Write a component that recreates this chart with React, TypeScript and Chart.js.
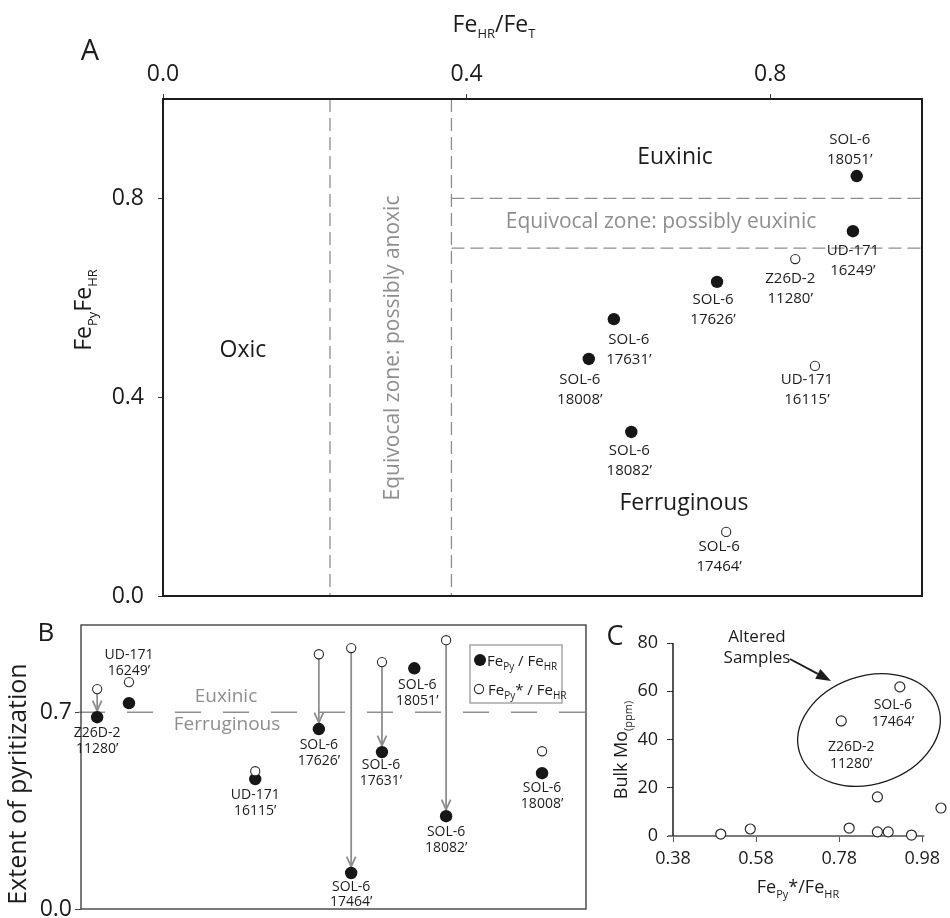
import React, { useEffect, useRef } from 'react';
import { Chart, registerables } from 'chart.js';

Chart.register(...registerables);

const FONT = "'Open Sans', 'Noto Sans', sans-serif";
const INK = '#1c1c1c';
const GREY = '#8e8e8e';

// ---------------- Panel A data ----------------
const aFilledNames = ['SOL-6|18051’', 'UD-171|16249’', 'SOL-6|17626’', 'SOL-6|17631’', 'SOL-6|18008’', 'SOL-6|18082’'];
const aFilledFeHRFeT = [0.914, 0.909, 0.73, 0.594, 0.561, 0.617];
const aFilledFePyFeHR = [0.845, 0.734, 0.632, 0.557, 0.477, 0.33];
const aOpenNames = ['Z26D-2|11280’', 'UD-171|16115’', 'SOL-6|17464’'];
const aOpenFeHRFeT = [0.833, 0.859, 0.742];
const aOpenFePyFeHR = [0.678, 0.463, 0.129];
const aTicksX = [0, 0.4, 0.8];
const aTicksY = [0, 0.4, 0.8];
const aBoundsFeHR = [0.22, 0.38];
const aBoundsFePy = [0.7, 0.8];

// ---------------- Panel B data ----------------
const bNames = ['Z26D-2|11280’', 'UD-171|16249’', 'UD-171|16115’', 'SOL-6|17626’', 'SOL-6|17464’', 'SOL-6|17631’', 'SOL-6|18051’', 'SOL-6|18082’', 'SOL-6|18008’'];
const bPosition = [3.2, 9.5, 34.5, 47.1, 53.5, 59.6, 66.0, 72.3, 91.3];
const bFePyFeHR = [0.682, 0.732, 0.462, 0.64, 0.128, 0.558, 0.856, 0.33, 0.483];
const bFePyStarFeHR: (number | null)[] = [0.782, 0.807, 0.49, 0.906, 0.928, 0.878, null, 0.956, 0.561];
const bArrow = [true, false, false, true, true, true, false, true, false];
const bTicksY = [0, 0.7];
const bThreshold = 0.7;

// ---------------- Panel C data ----------------
const cFePyStarFeHR = [0.495, 0.566, 0.804, 0.872, 0.898, 0.954, 1.025, 0.872, 0.785, 0.926];
const cBulkMo = [0.8, 2.9, 3.3, 1.7, 1.7, 0.4, 11.6, 16.2, 47.7, 61.8];
const cNames: (string | null)[] = [null, null, null, null, null, null, null, null, 'Z26D-2|11280’', 'SOL-6|17464’'];
const cTicksX = [0.38, 0.58, 0.78, 0.98];
const cTicksY = [0, 20, 40, 60, 80];
const cAxisEnd = 0.985;

// ---------------- label placement (style) ----------------
const aFilledLabelOffsets = [[-7, -36], [0, 20], [-4, 18], [15, 21], [-9, 21], [-2, 19]];
const aOpenLabelOffsets = [[-5, 20], [-8, 14], [-7, 15]];
const bLabelOffsets = [[0, 16], [0, -48], [0, 16], [0, 16], [0, 14], [-1, 13], [3, 17], [0, 16], [0, 15]];
const cLabelOffsets: Record<number, number[]> = { 8: [10, 26], 9: [-7, 18] };

type Part = { t: string; sub?: boolean };

function drawRich(ctx: CanvasRenderingContext2D, parts: Part[], x: number, y: number, size: number, subSize: number, color: string, rotate = 0, subDrop = 6, align = 'center') {
  ctx.save();
  ctx.translate(x, y);
  if (rotate) ctx.rotate(rotate);
  ctx.fillStyle = color;
  ctx.textAlign = 'left';
  ctx.textBaseline = 'alphabetic';
  const ws = parts.map((p) => {
    ctx.font = `${p.sub ? subSize : size}px ${FONT}`;
    return ctx.measureText(p.t).width;
  });
  const total = ws.reduce((a, b) => a + b, 0);
  let cx = align === 'center' ? -total / 2 : align === 'right' ? -total : 0;
  parts.forEach((p, i) => {
    ctx.font = `${p.sub ? subSize : size}px ${FONT}`;
    ctx.fillText(p.t, cx, p.sub ? subDrop : 0);
    cx += ws[i];
  });
  ctx.restore();
}

function drawText(ctx: CanvasRenderingContext2D, text: string, x: number, y: number, size: number, color: string, rotate = 0) {
  ctx.save();
  ctx.translate(x, y);
  if (rotate) ctx.rotate(rotate);
  ctx.font = `${size}px ${FONT}`;
  ctx.fillStyle = color;
  ctx.textAlign = 'center';
  ctx.textBaseline = 'middle';
  ctx.fillText(text, 0, 0);
  ctx.restore();
}

function drawLabel(ctx: CanvasRenderingContext2D, name: string, x: number, y: number, size: number, gap: number) {
  name.split('|').forEach((line, j) => drawText(ctx, line, x, y + j * gap, size, INK));
}

const fit = (w?: number, h?: number) => (s: any) => {
  if (w !== undefined) s.width = w;
  if (h !== undefined) s.height = h;
  s.paddingLeft = 0;
  s.paddingRight = 0;
  s.paddingTop = 0;
  s.paddingBottom = 0;
};

const setTicks = (vals: number[]) => (s: any) => {
  s.ticks = vals.map((v) => ({ value: v }));
};

const tickStyle = (size: number, padding: number, digits: number) => ({
  font: { family: FONT, size },
  color: INK,
  padding,
  maxRotation: 0,
  minRotation: 0,
  autoSkip: false,
  callback: (v: any) => Number(v).toFixed(digits),
});

const tickGrid = (len: number, color: string) => ({
  display: true,
  drawOnChartArea: false,
  drawTicks: true,
  tickLength: len,
  color,
  tickColor: color,
  lineWidth: 1,
});

const base = (padding: any) => ({
  animation: false as const,
  responsive: false,
  maintainAspectRatio: false,
  devicePixelRatio: 1,
  events: [] as any[],
  layout: { padding },
  plugins: { legend: { display: false }, tooltip: { enabled: false } },
});

// ---------------- Panel A ----------------
const panelAPlugin = {
  id: 'panelA',
  beforeDatasetsDraw(chart: any) {
    const { ctx, chartArea: ca } = chart;
    const xs = chart.scales.x;
    const ys = chart.scales.y;
    ctx.save();
    ctx.strokeStyle = GREY;
    ctx.lineWidth = 1.3;
    ctx.setLineDash([13, 6]);
    aBoundsFeHR.forEach((v) => {
      const px = xs.getPixelForValue(v);
      ctx.beginPath();
      ctx.moveTo(px, ca.top);
      ctx.lineTo(px, ca.bottom);
      ctx.stroke();
    });
    const x0 = xs.getPixelForValue(aBoundsFeHR[1]);
    aBoundsFePy.forEach((v) => {
      const py = ys.getPixelForValue(v);
      ctx.beginPath();
      ctx.moveTo(x0, py);
      ctx.lineTo(ca.right, py);
      ctx.stroke();
    });
    ctx.restore();
    drawText(ctx, 'Oxic', 243, 350, 23, INK);
    drawText(ctx, 'Euxinic', 675, 157, 23, INK);
    drawText(ctx, 'Ferruginous', 684, 503, 23, INK);
    drawText(ctx, 'Equivocal zone: possibly euxinic', 661, 222, 21, GREY);
    drawText(ctx, 'Equivocal zone: possibly anoxic', 393, 348, 21, GREY, -Math.PI / 2);
  },
  afterDatasetsDraw(chart: any) {
    const { ctx, chartArea: ca } = chart;
    const xs = chart.scales.x;
    const ys = chart.scales.y;
    ctx.save();
    ctx.strokeStyle = INK;
    ctx.lineWidth = 2;
    ctx.strokeRect(ca.left, ca.top, ca.right - ca.left, ca.bottom - ca.top);
    ctx.restore();
    aFilledNames.forEach((n, i) => {
      const px = xs.getPixelForValue(aFilledFeHRFeT[i]);
      const py = ys.getPixelForValue(aFilledFePyFeHR[i]);
      drawLabel(ctx, n, px + aFilledLabelOffsets[i][0], py + aFilledLabelOffsets[i][1], 15, 20);
    });
    aOpenNames.forEach((n, i) => {
      const px = xs.getPixelForValue(aOpenFeHRFeT[i]);
      const py = ys.getPixelForValue(aOpenFePyFeHR[i]);
      drawLabel(ctx, n, px + aOpenLabelOffsets[i][0], py + aOpenLabelOffsets[i][1], 15, 20);
    });
    drawRich(ctx, [{ t: 'Fe' }, { t: 'HR', sub: true }, { t: '/Fe' }, { t: 'T', sub: true }], 494, 32, 23, 13, INK, 0, 6);
    drawRich(ctx, [{ t: 'Fe' }, { t: 'Py', sub: true }, { t: 'Fe' }, { t: 'HR', sub: true }], 91, 310, 23, 13, INK, -Math.PI / 2, 6);
    drawText(ctx, 'A', 90, 52, 29, INK);
  },
};

function cfgA(): any {
  return {
    type: 'scatter',
    data: {
      datasets: [
        {
          data: aFilledFeHRFeT.map((x, i) => ({ x, y: aFilledFePyFeHR[i] })),
          pointRadius: 6.2,
          pointBackgroundColor: '#161616',
          pointBorderColor: '#161616',
          pointBorderWidth: 0,
        },
        {
          data: aOpenFeHRFeT.map((x, i) => ({ x, y: aOpenFePyFeHR[i] })),
          pointRadius: 4.6,
          pointBackgroundColor: '#ffffff',
          pointBorderColor: '#2a2a2a',
          pointBorderWidth: 1.1,
        },
      ],
    },
    options: {
      ...base({ left: 0, top: 0, right: 28, bottom: 322 }),
      scales: {
        x: {
          type: 'linear',
          position: 'top',
          min: 0,
          max: 1,
          afterBuildTicks: setTicks(aTicksX),
          afterFit: fit(undefined, 99),
          ticks: tickStyle(23, 6, 1),
          grid: tickGrid(5, '#333'),
          border: { display: false },
        },
        y: {
          type: 'linear',
          min: 0,
          max: 1,
          afterBuildTicks: setTicks(aTicksY),
          afterFit: fit(163, undefined),
          ticks: tickStyle(23, 14, 1),
          grid: tickGrid(5, '#333'),
          border: { display: false },
        },
      },
    },
    plugins: [panelAPlugin],
  };
}

// ---------------- Panel B ----------------
const panelBPlugin = {
  id: 'panelB',
  beforeDatasetsDraw(chart: any) {
    const { ctx, chartArea: ca } = chart;
    const xs = chart.scales.x;
    const ys = chart.scales.y;
    const py = ys.getPixelForValue(bThreshold);
    ctx.save();
    ctx.strokeStyle = GREY;
    ctx.lineWidth = 1.5;
    ctx.setLineDash([26, 22]);
    ctx.beginPath();
    ctx.moveTo(ca.left - 2, py);
    ctx.lineTo(ca.right, py);
    ctx.stroke();
    ctx.setLineDash([]);
    ctx.lineWidth = 1.8;
    bPosition.forEach((pos, i) => {
      const o = bFePyStarFeHR[i];
      if (!bArrow[i] || o == null) return;
      const px = xs.getPixelForValue(pos);
      const y1 = ys.getPixelForValue(o) + 4.6;
      const y2 = ys.getPixelForValue(bFePyFeHR[i]) - 6.5;
      ctx.beginPath();
      ctx.moveTo(px, y1);
      ctx.lineTo(px, y2);
      ctx.stroke();
      ctx.beginPath();
      ctx.moveTo(px - 4.5, y2 - 10);
      ctx.lineTo(px, y2);
      ctx.lineTo(px + 4.5, y2 - 10);
      ctx.stroke();
    });
    ctx.restore();
    drawText(ctx, 'Euxinic', 226, 697, 19, GREY);
    drawText(ctx, 'Ferruginous', 227, 725, 19, GREY);
  },
  afterDatasetsDraw(chart: any) {
    const { ctx, chartArea: ca } = chart;
    const xs = chart.scales.x;
    const ys = chart.scales.y;
    ctx.save();
    ctx.strokeStyle = '#333';
    ctx.lineWidth = 1.3;
    ctx.strokeRect(ca.left, ca.top, ca.right - ca.left, ca.bottom - ca.top);
    // legend
    ctx.strokeStyle = '#a8a8a8';
    ctx.lineWidth = 1.5;
    ctx.strokeRect(470, 645, 92, 58);
    ctx.fillStyle = '#161616';
    ctx.beginPath();
    ctx.arc(480, 660, 6, 0, Math.PI * 2);
    ctx.fill();
    ctx.fillStyle = '#fff';
    ctx.strokeStyle = '#2a2a2a';
    ctx.lineWidth = 1.1;
    ctx.beginPath();
    ctx.arc(479, 689, 4.6, 0, Math.PI * 2);
    ctx.fill();
    ctx.stroke();
    ctx.restore();
    drawRich(ctx, [{ t: 'Fe' }, { t: 'Py', sub: true }, { t: ' / Fe' }, { t: 'HR', sub: true }], 487, 666, 15, 10, INK, 0, 4, 'left');
    drawRich(ctx, [{ t: 'Fe' }, { t: 'Py', sub: true }, { t: '* / Fe' }, { t: 'HR', sub: true }], 488, 695, 15, 10, INK, 0, 4, 'left');
    bNames.forEach((n, i) => {
      const px = xs.getPixelForValue(bPosition[i]);
      const py = ys.getPixelForValue(bFePyFeHR[i]);
      drawLabel(ctx, n, px + bLabelOffsets[i][0], py + bLabelOffsets[i][1], 14, 15.5);
    });
    drawText(ctx, 'Extent of pyritization', 19, 784, 25, INK, -Math.PI / 2);
    drawText(ctx, 'B', 46, 634, 26, INK);
  },
};

function cfgB(): any {
  const openPts: any[] = [];
  bPosition.forEach((x, i) => {
    const v = bFePyStarFeHR[i];
    if (v != null) openPts.push({ x, y: v });
  });
  return {
    type: 'scatter',
    data: {
      datasets: [
        {
          data: openPts,
          pointRadius: 4.6,
          pointBackgroundColor: '#ffffff',
          pointBorderColor: '#2a2a2a',
          pointBorderWidth: 1.1,
        },
        {
          data: bPosition.map((x, i) => ({ x, y: bFePyFeHR[i] })),
          pointRadius: 6.2,
          pointBackgroundColor: '#161616',
          pointBorderColor: '#161616',
          pointBorderWidth: 0,
        },
      ],
    },
    options: {
      ...base({ left: 0, top: 625, right: 364, bottom: 9 }),
      scales: {
        x: { type: 'linear', display: false, min: 0, max: 100 },
        y: {
          type: 'linear',
          min: 0,
          max: 1.01,
          afterBuildTicks: setTicks(bTicksY),
          afterFit: fit(81, undefined),
          ticks: tickStyle(23, 3, 1),
          grid: tickGrid(6, '#444'),
          border: { display: false },
        },
      },
    },
    plugins: [panelBPlugin],
  };
}

// ---------------- Panel C ----------------
const panelCPlugin = {
  id: 'panelC',
  beforeDatasetsDraw(chart: any) {
    const { ctx, chartArea: ca } = chart;
    const xs = chart.scales.x;
    ctx.save();
    ctx.strokeStyle = '#7a7a7a';
    ctx.lineWidth = 2;
    ctx.beginPath();
    ctx.moveTo(ca.left - 5, ca.bottom);
    ctx.lineTo(xs.getPixelForValue(cAxisEnd), ca.bottom);
    ctx.stroke();
    ctx.strokeStyle = INK;
    ctx.lineWidth = 1.5;
    ctx.beginPath();
    ctx.moveTo(ca.left, ca.top);
    ctx.lineTo(ca.left, ca.bottom);
    ctx.stroke();
    // ellipse around altered samples
    ctx.lineWidth = 1.3;
    ctx.beginPath();
    ctx.ellipse(869, 730, 73, 54, -0.33, 0, Math.PI * 2);
    ctx.stroke();
    // arrow
    const x1 = 790, y1 = 659, x2 = 831, y2 = 681;
    const ang = Math.atan2(y2 - y1, x2 - x1);
    const head = 15, half = 5.5;
    const bx = x2 - head * Math.cos(ang), by = y2 - head * Math.sin(ang);
    ctx.lineWidth = 1.8;
    ctx.beginPath();
    ctx.moveTo(x1, y1);
    ctx.lineTo(bx, by);
    ctx.stroke();
    ctx.fillStyle = INK;
    ctx.beginPath();
    ctx.moveTo(x2, y2);
    ctx.lineTo(bx + half * Math.sin(ang), by - half * Math.cos(ang));
    ctx.lineTo(bx - half * Math.sin(ang), by + half * Math.cos(ang));
    ctx.closePath();
    ctx.fill();
    ctx.restore();
  },
  afterDatasetsDraw(chart: any) {
    const { ctx } = chart;
    const xs = chart.scales.x;
    const ys = chart.scales.y;
    cNames.forEach((n, i) => {
      if (!n) return;
      const px = xs.getPixelForValue(cFePyStarFeHR[i]);
      const py = ys.getPixelForValue(cBulkMo[i]);
      drawLabel(ctx, n, px + cLabelOffsets[i][0], py + cLabelOffsets[i][1], 14, 17.5);
    });
    drawText(ctx, 'Altered', 757, 637, 17, INK);
    drawText(ctx, 'Samples', 757, 658, 17, INK);
    drawRich(ctx, [{ t: 'Fe' }, { t: 'Py', sub: true }, { t: '*/Fe' }, { t: 'HR', sub: true }], 798, 893, 18, 11, INK, 0, 5);
    drawRich(ctx, [{ t: 'Bulk Mo' }, { t: '(ppm)', sub: true }], 627, 750, 18, 11, INK, -Math.PI / 2, 5);
    drawText(ctx, 'C', 615, 637, 27, INK);
  },
};

function cfgC(): any {
  return {
    type: 'scatter',
    data: {
      datasets: [
        {
          data: cFePyStarFeHR.map((x, i) => ({ x, y: cBulkMo[i] })),
          pointRadius: 5,
          pointBackgroundColor: '#ffffff',
          pointBorderColor: '#2a2a2a',
          pointBorderWidth: 1.2,
          clip: false,
        },
      ],
    },
    options: {
      ...base({ left: 600, top: 643, right: 0, bottom: 42 }),
      scales: {
        x: {
          type: 'linear',
          min: 0.38,
          max: 1.0318,
          afterBuildTicks: setTicks(cTicksX),
          afterFit: fit(undefined, 40),
          ticks: tickStyle(18, 6, 2),
          grid: tickGrid(6, '#555'),
          border: { display: false },
        },
        y: {
          type: 'linear',
          min: 0,
          max: 80,
          afterBuildTicks: setTicks(cTicksY),
          afterFit: fit(73, undefined),
          ticks: tickStyle(18, 9, 0),
          grid: tickGrid(6, '#333'),
          border: { display: false },
        },
      },
    },
    plugins: [panelCPlugin],
  };
}

export default function App() {
  const refA = useRef<HTMLCanvasElement | null>(null);
  const refB = useRef<HTMLCanvasElement | null>(null);
  const refC = useRef<HTMLCanvasElement | null>(null);

  useEffect(() => {
    const charts = [
      new Chart(refA.current as HTMLCanvasElement, cfgA()),
      new Chart(refB.current as HTMLCanvasElement, cfgB()),
      new Chart(refC.current as HTMLCanvasElement, cfgC()),
    ];
    return () => charts.forEach((c) => c.destroy());
  }, []);

  const cs: React.CSSProperties = { position: 'absolute', left: 0, top: 0 };
  return (
    <div style={{ position: 'absolute', left: 0, top: 0, width: 950, height: 918, background: '#fff', overflow: 'hidden' }}>
      <canvas ref={refA} width={950} height={918} style={cs} />
      <canvas ref={refB} width={950} height={918} style={cs} />
      <canvas ref={refC} width={950} height={918} style={cs} />
    </div>
  );
}
